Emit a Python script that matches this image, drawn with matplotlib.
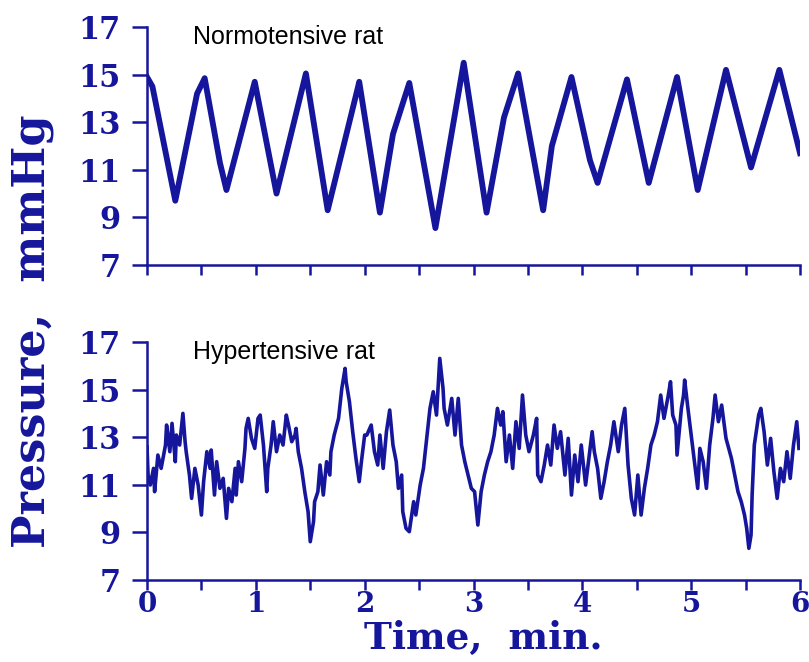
import numpy as np
import matplotlib.pyplot as plt

# Normotensive rat trace (time in min, pressure in mmHg)
normo_t = [0.00, 0.05, 0.26, 0.46, 0.53, 0.67, 0.73, 0.99, 1.19, 1.46, 1.66,
           1.94, 1.95, 2.14, 2.26, 2.41, 2.65, 2.91, 3.12, 3.28, 3.41, 3.64,
           3.72, 3.90, 4.07, 4.14, 4.41, 4.61, 4.87, 5.06, 5.32, 5.55, 5.81, 6.00]
normo_p = [14.9, 14.5, 9.7, 14.2, 14.85, 11.3, 10.15, 14.7, 10.0, 15.05, 9.3,
           14.5, 14.7, 9.2, 12.5, 14.65, 8.55, 15.5, 9.2, 13.2, 15.05, 9.3,
           12.0, 14.9, 11.4, 10.45, 14.8, 10.45, 14.9, 10.15, 15.2, 11.1, 15.2, 11.7]

# Hypertensive rat trace
hyper_t = [0.00, 0.01, 0.03, 0.06, 0.07, 0.10, 0.13, 0.17, 0.18, 0.21, 0.23,
           0.26, 0.27, 0.30, 0.33, 0.35, 0.36, 0.39, 0.41, 0.44, 0.47, 0.50,
           0.52, 0.55, 0.58, 0.59, 0.62, 0.64, 0.67, 0.70, 0.73, 0.75, 0.78,
           0.81, 0.82, 0.84, 0.87, 0.90, 0.91, 0.93, 0.96, 0.99, 1.02, 1.04,
           1.07, 1.10, 1.11, 1.14, 1.16, 1.19, 1.22, 1.25, 1.28, 1.30, 1.33,
           1.36, 1.37, 1.39, 1.42, 1.45, 1.48, 1.50, 1.53, 1.54, 1.57, 1.59,
           1.62, 1.65, 1.68, 1.69, 1.72, 1.76, 1.79, 1.82, 1.83, 1.86, 1.89,
           1.92, 1.95, 1.97, 2.00, 2.02, 2.06, 2.09, 2.12, 2.14, 2.17, 2.20,
           2.23, 2.26, 2.29, 2.31, 2.34, 2.35, 2.38, 2.41, 2.45, 2.47, 2.51,
           2.54, 2.57, 2.60, 2.63, 2.66, 2.69, 2.72, 2.73, 2.76, 2.80, 2.83,
           2.86, 2.89, 2.92, 2.95, 2.98, 3.01, 3.04, 3.07, 3.10, 3.13, 3.16,
           3.19, 3.22, 3.25, 3.27, 3.30, 3.33, 3.36, 3.39, 3.42, 3.45, 3.48,
           3.51, 3.55, 3.58, 3.59, 3.62, 3.65, 3.68, 3.71, 3.74, 3.77, 3.80,
           3.84, 3.87, 3.90, 3.93, 3.96, 3.99, 4.03, 4.06, 4.09, 4.11, 4.14,
           4.17, 4.20, 4.23, 4.26, 4.29, 4.33, 4.36, 4.39, 4.42, 4.45, 4.48,
           4.51, 4.54, 4.57, 4.60, 4.63, 4.66, 4.69, 4.72, 4.75, 4.79, 4.81,
           4.83, 4.86, 4.87, 4.91, 4.93, 4.94, 4.97, 5.00, 5.03, 5.06, 5.08,
           5.11, 5.14, 5.17, 5.20, 5.22, 5.25, 5.28, 5.32, 5.37, 5.40, 5.43,
           5.46, 5.49, 5.51, 5.53, 5.55, 5.56, 5.58, 5.62, 5.64, 5.67, 5.70,
           5.73, 5.76, 5.79, 5.82, 5.85, 5.88, 5.91, 5.94, 5.97, 5.99]
hyper_p = [12.60, 11.41, 10.99, 11.69, 10.71, 12.25, 11.69, 12.67, 13.51, 12.39, 13.58,
           11.97, 13.09, 12.67, 14.00, 12.81, 12.39, 11.41, 10.43, 11.69, 10.99, 9.73,
           11.13, 12.39, 11.69, 12.46, 10.57, 11.97, 10.85, 11.27, 9.59, 10.85, 10.29,
           11.69, 10.57, 11.97, 11.13, 12.53, 13.37, 13.79, 12.95, 12.53, 13.79, 13.93,
           12.67, 10.71, 11.69, 12.67, 13.65, 12.39, 13.09, 12.67, 13.93, 13.51, 12.81,
           13.09, 13.37, 12.39, 11.69, 10.71, 9.87, 8.61, 9.45, 10.29, 10.71, 11.83,
           10.57, 11.97, 11.41, 12.39, 13.09, 13.79, 15.05, 15.89, 15.33, 14.49, 13.23,
           12.11, 11.13, 11.97, 13.09, 13.09, 13.51, 12.39, 11.83, 13.09, 11.69, 13.23,
           14.14, 12.67, 11.97, 10.85, 11.41, 9.87, 9.17, 9.03, 10.29, 9.73, 10.99,
           11.69, 12.95, 14.21, 14.91, 13.93, 16.31, 15.05, 14.21, 13.51, 14.63, 13.09,
           14.63, 12.67, 11.97, 11.41, 10.85, 10.71, 9.31, 10.71, 11.41, 11.97, 12.39,
           13.09, 14.21, 13.51, 14.07, 11.97, 13.09, 11.69, 13.65, 12.53, 14.77, 13.09,
           12.39, 13.09, 13.79, 11.41, 11.13, 11.83, 12.67, 11.83, 13.51, 12.53, 13.23,
           11.41, 12.95, 10.57, 12.25, 11.13, 12.67, 10.99, 12.11, 13.23, 12.39, 11.69,
           10.43, 11.13, 11.97, 12.67, 13.65, 12.39, 13.51, 14.21, 11.83, 10.43, 9.73,
           11.41, 9.73, 10.85, 11.69, 12.67, 13.09, 13.65, 14.77, 13.79, 14.77, 15.33,
           13.93, 13.51, 12.25, 14.21, 14.77, 15.40, 14.21, 13.09, 11.97, 10.85, 12.53,
           11.97, 10.85, 12.67, 13.79, 14.77, 13.65, 14.35, 12.95, 12.11, 11.41, 10.71,
           10.29, 9.73, 9.17, 8.33, 8.89, 10.57, 12.67, 13.93, 14.21, 13.23, 11.83,
           12.95, 11.55, 10.43, 11.69, 11.13, 12.39, 11.27, 12.67, 13.65, 12.53]

panel_titles = ["Normotensive rat", "Hypertensive rat"]
y_ticks = [7, 9, 11, 13, 15, 17]
x_major = [0, 1, 2, 3, 4, 5, 6]
x_minor = [0.5, 1.5, 2.5, 3.5, 4.5, 5.5]

navy = '#16169c'
serif = 'DejaVu Serif'

fig = plt.figure(figsize=(8.09, 6.62), dpi=100)
ax_top = fig.add_axes([0.1817, 0.5997, 0.8072, 0.3595])
ax_bot = fig.add_axes([0.1817, 0.1239, 0.8072, 0.3595])

ax_top.plot(normo_t, normo_p, color=navy, linewidth=4.2)
ax_bot.plot(hyper_t, hyper_p, color=navy, linewidth=2.6)

for ax, title in zip([ax_top, ax_bot], panel_titles):
    ax.set_xlim(0, 6)
    ax.set_ylim(7, 17)
    for side in ['top', 'right']:
        ax.spines[side].set_visible(False)
    for side in ['left', 'bottom']:
        ax.spines[side].set_color(navy)
        ax.spines[side].set_linewidth(1.8)
    ax.set_yticks(y_ticks)
    ax.set_yticklabels([str(v) for v in y_ticks], fontfamily=serif,
                       fontweight='bold', fontsize=22, color=navy)
    ax.set_xticks(x_major)
    ax.set_xticks(x_minor, minor=True)
    ax.tick_params(axis='y', direction='out', length=11, width=1.8, color=navy, pad=8)
    ax.tick_params(axis='x', which='both', direction='out', length=7, width=1.8, color=navy)
    ax.text(0.07, 0.958, title, transform=ax.transAxes, fontfamily='Liberation Sans',
            fontsize=18, color='black', va='center', ha='left')
    ax.patch.set_visible(False)

ax_top.set_xticklabels([])
ax_bot.set_xticklabels([str(v) for v in x_major], fontfamily=serif,
                       fontweight='bold', fontsize=20, color=navy)
ax_bot.tick_params(axis='x', pad=1)

fig.text(0.597, 0.036, "Time,  min.", fontfamily=serif, fontweight='bold',
         fontsize=27, color=navy, ha='center', va='center')
fig.text(0.040, 0.50, "Pressure,  mmHg", fontfamily=serif, fontweight='bold',
         fontsize=32, color=navy, ha='center', va='center', rotation=90)

fig.savefig('out.png', dpi=100)
